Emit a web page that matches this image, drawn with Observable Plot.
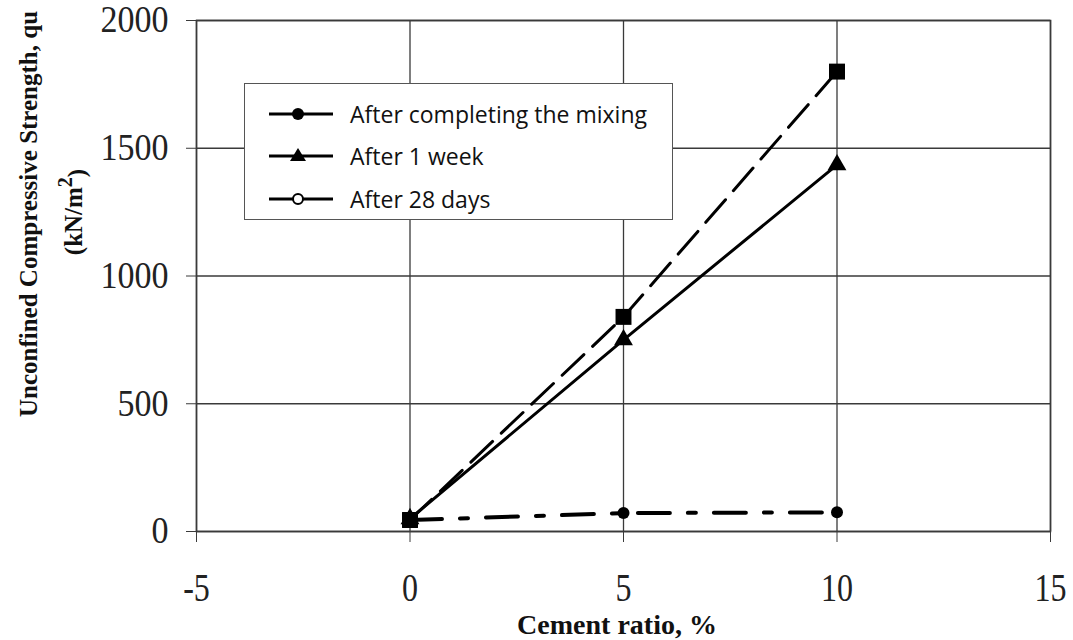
<!DOCTYPE html>
<html>
<head>
<meta charset="utf-8">
<script src="https://cdn.jsdelivr.net/npm/d3@7"></script>
<script src="https://cdn.jsdelivr.net/npm/@observablehq/plot@0.6"></script>
<style>
  html, body { margin: 0; padding: 0; background: #fff; }
  #wrap { position: relative; width: 1073px; height: 640px; overflow: hidden; }
  #legend { position: absolute; left: 244px; top: 83px; width: 427px; height: 135px;
            border: 1.5px solid #555; background: #fff; font-family: "Open Sans", sans-serif; font-size: 23px; color: #111; }
  .row { position: absolute; left: 0; height: 30px; display: flex; align-items: center; white-space: nowrap; }
  .row svg { margin-left: 24px; margin-right: 17px; }
</style>
</head>
<body>
<div id="wrap"></div>
<script>
const cementRatio = [0, 5, 10];
const afterMixing = [45, 72, 75];
const after1Week = [50, 750, 1435];
const after28Days = [45, 840, 1800];
const xTicks = [-5, 0, 5, 10, 15];
const yTicks = [0, 500, 1000, 1500, 2000];
const legendLabels = ["After completing the mixing", "After 1 week", "After 28 days"];

const mk = (vals) => cementRatio.map((x, i) => ({x, y: vals[i]}));
const mixData = mk(afterMixing);
const weekData = mk(after1Week);
const dayData = mk(after28Days);

const chart = Plot.plot({
  width: 1073,
  height: 640,
  marginLeft: 196,
  marginRight: 23,
  marginTop: 20,
  marginBottom: 109,
  style: { fontFamily: "'Liberation Serif', serif", fontSize: "36px", color: "#222", background: "#fff" },
  x: { domain: [-5, 15], ticks: xTicks },
  y: { domain: [0, 2000], ticks: yTicks },
  marks: [
    Plot.gridX(xTicks, { stroke: "#3a3a3a", strokeOpacity: 1, strokeWidth: 1.3 }),
    Plot.gridY(yTicks, { stroke: "#3a3a3a", strokeOpacity: 1, strokeWidth: 1.3 }),
    Plot.frame({ stroke: "#3a3a3a", strokeWidth: 1.6 }),
    Plot.axisX(xTicks, { tickSize: 11, tickPadding: 30, label: null, stroke: "#3a3a3a", fontSize: 40, tickFormat: d => String(d), className: "xax" }),
    Plot.axisY(yTicks, { tickSize: 10, tickPadding: 18, label: null, stroke: "#3a3a3a", fontSize: 37, tickFormat: d => String(d), className: "yax" }),
    Plot.line(mixData, { x: "x", y: "y", stroke: "#000", strokeWidth: 4, strokeDasharray: "32,18,8,18" }),
    Plot.line(weekData, { x: "x", y: "y", stroke: "#000", strokeWidth: 3 }),
    Plot.line(dayData, { x: "x", y: "y", stroke: "#000", strokeWidth: 3, strokeDasharray: "30,12" }),
    Plot.dot(mixData, { x: "x", y: "y", symbol: "circle", r: 6, fill: "#000" }),
    Plot.dot(weekData, { x: "x", y: "y", symbol: "triangle", r: 7, fill: "#000" }),
    Plot.dot(dayData, { x: "x", y: "y", symbol: "square", r: 9, fill: "#000" })
  ]
});

const wrap = document.getElementById("wrap");
wrap.appendChild(chart);

const svg = d3.select(chart);
// condense x tick labels horizontally, as in the reference
svg.selectAll("g.xax text").each(function() {
  const t = d3.select(this);
  const tr = t.attr("transform") || "";
  t.attr("transform", tr + " scale(0.8,1)");
});
svg.selectAll("g.yax text").each(function() {
  const t = d3.select(this);
  const tr = t.attr("transform") || "";
  t.attr("transform", tr + " scale(0.92,1)");
});

// Axis titles
svg.append("text")
  .attr("transform", "translate(37,214) rotate(-90)")
  .attr("text-anchor", "middle")
  .style("font-family", "'Liberation Serif', serif").style("font-weight", "bold").style("font-size", "25px").style("fill", "#111")
  .text("Unconfined Compressive Strength, qu");
const yl2 = svg.append("text")
  .attr("transform", "translate(82,212) rotate(-90)")
  .attr("text-anchor", "middle")
  .style("font-family", "'Liberation Serif', serif").style("font-weight", "bold").style("font-size", "25px").style("fill", "#111");
yl2.append("tspan").text("(kN/m");
yl2.append("tspan").attr("dy", "-0.5em").style("font-size", "20px").text("2");
yl2.append("tspan").attr("dy", "0.5em").text(")");
svg.append("text")
  .attr("x", 617).attr("y", 634)
  .attr("text-anchor", "middle")
  .style("font-family", "'Liberation Serif', serif").style("font-weight", "bold").style("font-size", "28px").style("fill", "#111")
  .text("Cement ratio, %");

// Legend
const legend = document.createElement("div");
legend.id = "legend";
const tops = [15, 57, 100];
const symbols = ["filled", "triangle", "open"];
legendLabels.forEach((lab, i) => {
  const row = document.createElement("div");
  row.className = "row";
  row.style.top = tops[i] + "px";
  const s = d3.create("svg").attr("width", 64).attr("height", 30);
  s.append("line").attr("x1", 0).attr("x2", 64).attr("y1", 15).attr("y2", 15).attr("stroke", "#000").attr("stroke-width", 3);
  if (symbols[i] === "filled") s.append("circle").attr("cx", 29).attr("cy", 15).attr("r", 6).attr("fill", "#000");
  if (symbols[i] === "open") s.append("circle").attr("cx", 29).attr("cy", 15).attr("r", 5).attr("fill", "#fff").attr("stroke", "#000").attr("stroke-width", 2);
  if (symbols[i] === "triangle") s.append("path").attr("d", "M29,7 L37,20 L21,20 Z").attr("fill", "#000");
  row.appendChild(s.node());
  const t = document.createElement("span");
  t.textContent = lab;
  row.appendChild(t);
  legend.appendChild(row);
});
wrap.appendChild(legend);
</script>
</body>
</html>
